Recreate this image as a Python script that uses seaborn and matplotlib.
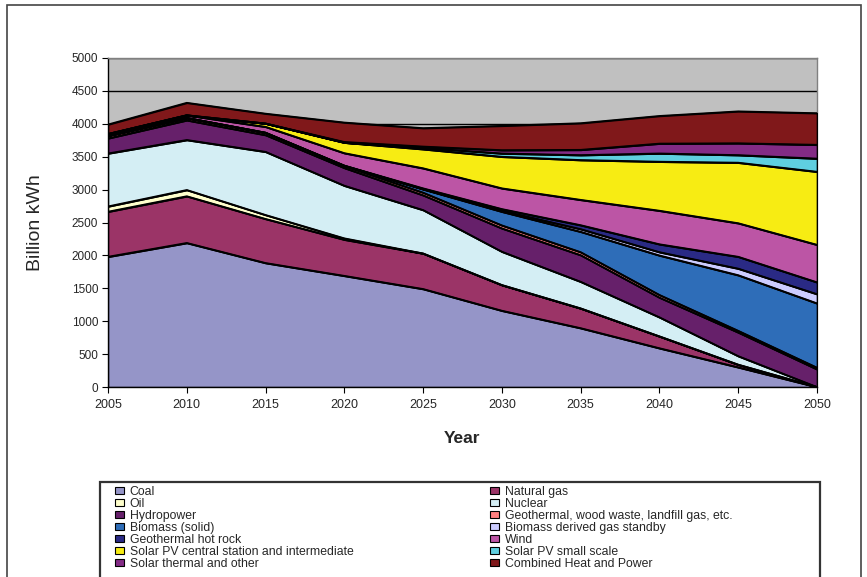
import matplotlib
matplotlib.use("Agg")
import matplotlib.pyplot as plt
from matplotlib.patches import Patch, Rectangle
import seaborn as sns
import pandas as pd

years = [2005, 2010, 2015, 2020, 2025, 2030, 2035, 2040, 2045, 2050]

coal = [1980, 2190, 1885, 1690, 1490, 1160, 895, 590, 300, 0]
natural_gas = [685, 710, 670, 550, 540, 390, 300, 180, 40, 0]
oil = [80, 95, 60, 20, 0, 0, 0, 0, 0, 0]
nuclear = [805, 760, 960, 800, 660, 507, 405, 290, 130, 0]
hydropower = [230, 300, 255, 270, 225, 355, 405, 300, 360, 270]
geothermal_waste = [40, 35, 35, 30, 40, 45, 45, 40, 25, 25]
biomass_solid = [0, 0, 0, 5, 50, 208, 310, 600, 845, 977]
biomass_gas = [0, 0, 0, 0, 5, 15, 40, 50, 100, 140]
hot_rock = [0, 0, 0, 0, 10, 25, 60, 120, 180, 180]
wind = [25, 40, 90, 190, 305, 315, 385, 510, 510, 570]
solar_central = [0, 0, 50, 160, 290, 480, 605, 745, 920, 1110]
solar_small = [0, 0, 0, 0, 20, 50, 75, 125, 115, 200]
solar_thermal = [0, 0, 0, 10, 20, 50, 80, 150, 180, 210]
chp = [145, 190, 150, 295, 280, 370, 405, 420, 485, 480]

labels = [
    "Coal", "Natural gas", "Oil", "Nuclear", "Hydropower",
    "Geothermal, wood waste, landfill gas, etc.", "Biomass (solid)",
    "Biomass derived gas standby", "Geothermal hot rock", "Wind",
    "Solar PV central station and intermediate", "Solar PV small scale",
    "Solar thermal and other", "Combined Heat and Power",
]
series = [coal, natural_gas, oil, nuclear, hydropower, geothermal_waste,
          biomass_solid, biomass_gas, hot_rock, wind, solar_central,
          solar_small, solar_thermal, chp]
colors = ["#9595C8", "#9B3467", "#FFFFCC", "#D4EEF4", "#66206A", "#FF8080",
          "#2E6DB8", "#CCCCFF", "#2A2A85", "#BC55A5", "#F7EC13", "#5FCFE0",
          "#832B85", "#80181A"]

df = pd.DataFrame({lab: vals for lab, vals in zip(labels, series)}, index=years)

sns.set_style("white")
plt.rcParams["font.family"] = ["Liberation Sans", "DejaVu Sans"]

fig = plt.figure(figsize=(8.67, 5.77), dpi=100)
ax = fig.add_axes([108 / 867, 1 - 387 / 577, (817 - 108) / 867, (387 - 58) / 577])
ax.set_facecolor("#C0C0C0")

ax.stackplot(df.index, [df[c].values for c in labels], colors=colors,
             edgecolor="black", linewidth=1.2, zorder=3)

# cumulative boundaries drawn as seaborn lines
cum = df.cumsum(axis=1)
long = cum.reset_index().melt(id_vars="index", var_name="layer", value_name="top")
sns.lineplot(data=long, x="index", y="top", units="layer", estimator=None,
             color="black", linewidth=1.2, ax=ax, zorder=4, legend=False)

ax.set_xlim(2005, 2050)
ax.set_ylim(0, 5000)
ax.set_xticks(years)
ax.set_yticks(range(0, 5001, 500))
ax.yaxis.grid(True, color="black", linewidth=1.0, zorder=1)
ax.set_axisbelow(True)
ax.tick_params(axis="both", labelsize=8.5, length=4, direction="out",
               bottom=True, left=True, color="black", pad=3)
ax.tick_params(axis="x", labelsize=9, pad=5)
for side in ("left", "bottom"):
    ax.spines[side].set_color("black")
    ax.spines[side].set_linewidth(1.0)
for side in ("top", "right"):
    ax.spines[side].set_color("#808080")
    ax.spines[side].set_linewidth(1.0)

ax.set_xlabel("Year", fontsize=12.5, fontweight="bold", labelpad=14)
ax.set_ylabel("Billion kWh", fontsize=14, labelpad=20)

handles = [Patch(facecolor=c, edgecolor="black", linewidth=0.8) for c in colors]
left_idx = [0, 2, 4, 6, 8, 10, 12]
right_idx = [1, 3, 5, 7, 9, 11, 13]
legend_kw = dict(frameon=False, fontsize=8.8, handlelength=0.75, handleheight=0.6,
                 handletextpad=0.45, labelspacing=0.0, borderaxespad=0,
                 loc="upper left")
leg1 = fig.legend([handles[i] for i in left_idx], [labels[i] for i in left_idx],
                  bbox_to_anchor=(110 / 867, 1 - 481 / 577), **legend_kw)
leg2 = fig.legend([handles[i] for i in right_idx], [labels[i] for i in right_idx],
                  bbox_to_anchor=(485 / 867, 1 - 481 / 577), **legend_kw)

# legend box and outer chart frame
fig.add_artist(Rectangle((100 / 867, -0.05), 720 / 867, 0.05 + (577 - 482) / 577,
                         transform=fig.transFigure, fill=False,
                         edgecolor="#333333", linewidth=1.6))
fig.add_artist(Rectangle((7 / 867, -0.05), 854 / 867, 1.05 - 5 / 577,
                         transform=fig.transFigure, fill=False,
                         edgecolor="#444444", linewidth=1.2))

fig.savefig("out.png", dpi=100)
